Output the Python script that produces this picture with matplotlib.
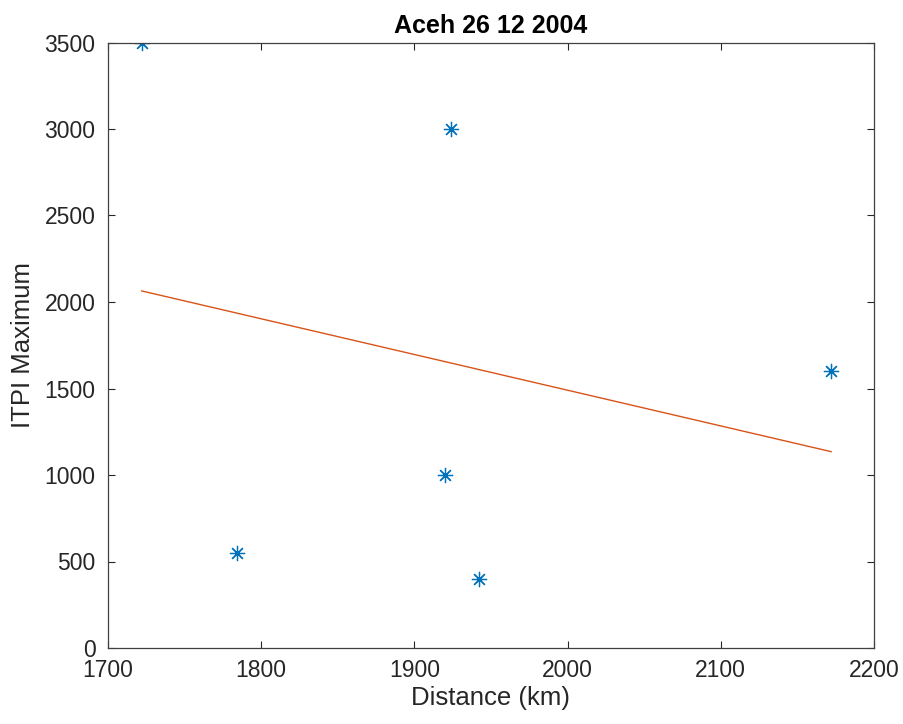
import matplotlib
matplotlib.use("Agg")
import matplotlib.pyplot as plt

plt.rcParams['font.family'] = ['Liberation Sans', 'DejaVu Sans']

distance_km = [1722, 1784, 1920, 1924, 1942, 2172]
itpi_max = [3500, 550, 1000, 3000, 400, 1600]
fit_x = [1722, 2172]
fit_y = [2064, 1135]
x_ticks = [1700, 1800, 1900, 2000, 2100, 2200]
y_ticks = [0, 500, 1000, 1500, 2000, 2500, 3000, 3500]

blue = (0, 0.447, 0.741)
orange = (0.85, 0.325, 0.098)
axc = '#262626'

fig = plt.figure(figsize=(9.04, 7.24), dpi=100)
ax = fig.add_axes([108/904, 1-648/724, (874-108)/904, (648-42.5)/724])

ax.plot(distance_km, itpi_max, linestyle='none', marker=(8, 2, 0), color=blue,
        markersize=11, markeredgewidth=0.9)
ax.plot(fit_x, fit_y, color=orange, linewidth=1.0)

ax.set_xlim(1700, 2200)
ax.set_ylim(0, 3500)
ax.set_xticks(x_ticks)
ax.set_yticks(y_ticks)
ax.tick_params(direction='in', length=5, width=0.8, colors=axc, labelsize=16.5,
               top=True, right=True, labeltop=False, labelright=False)
ax.tick_params(axis='y', pad=9)
ax.tick_params(axis='x', pad=8)
for sp in ax.spines.values():
    sp.set_color('#404040')
    sp.set_linewidth(0.9)

ax.set_xlabel('Distance (km)', fontsize=18.5, color=axc, labelpad=3)
ax.set_ylabel('ITPI Maximum', fontsize=18.5, color=axc, labelpad=7)
ax.set_title('Aceh 26 12 2004', fontsize=18, fontweight='bold', color='black', pad=7)

fig.savefig('out.png', dpi=100)
